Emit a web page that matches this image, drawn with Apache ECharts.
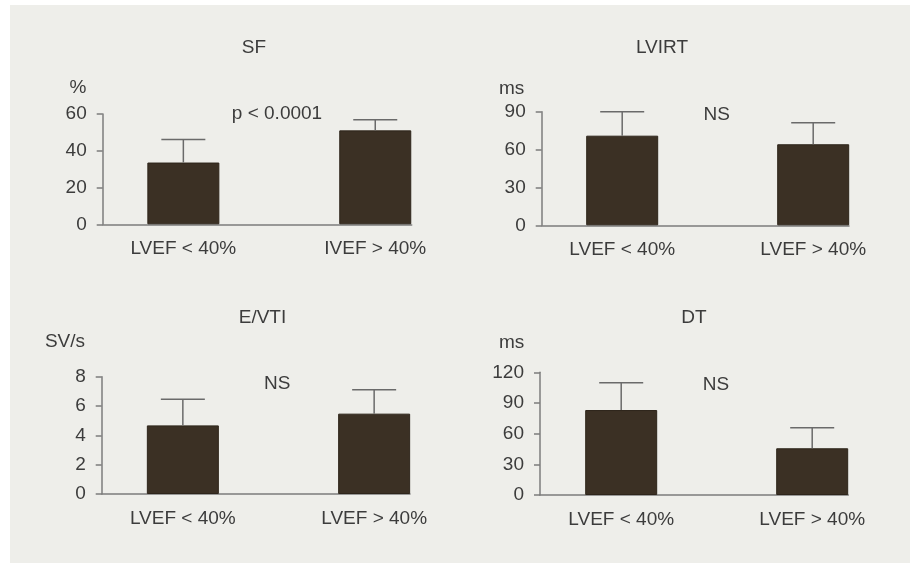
<!DOCTYPE html>
<html>
<head>
<meta charset="utf-8">
<script src="https://cdn.jsdelivr.net/npm/echarts@6/dist/echarts.min.js"></script>
<style>
  html, body { margin: 0; padding: 0; background: #ffffff; }
  #bg { position: absolute; left: 10px; top: 5px; width: 900px; height: 558px; background: #eeeeea; }
  #chart { position: absolute; left: 0; top: 0; width: 913px; height: 566px; }
</style>
</head>
<body>
<div id="bg"></div>
<div id="chart"></div>
<script>
// ---- data ----
var catsSF = ['LVEF < 40%', 'IVEF > 40%'];
var cats = ['LVEF < 40%', 'LVEF > 40%'];

var sfMean = [33.6, 51.1];
var sfUpper = [46.1, 56.9];
var sfTicks = { max: 60, interval: 20 };

var lvirtMean = [71.0, 64.2];
var lvirtUpper = [90.0, 81.3];
var lvirtTicks = { max: 90, interval: 30 };

var evtiMean = [4.68, 5.48];
var evtiUpper = [6.46, 7.11];
var evtiTicks = { max: 8, interval: 2 };

var dtMean = [83.1, 45.7];
var dtUpper = [109.8, 65.8];
var dtTicks = { max: 120, interval: 30 };

var titles = ['SF', 'LVIRT', 'E/VTI', 'DT'];
var units = ['%', 'ms', 'SV/s', 'ms'];
var notes = ['p < 0.0001', 'NS', 'NS', 'NS'];

// ---- layout ----
var FONT = '"Liberation Sans", Arial, Helvetica, sans-serif';
var FS = 19;
var TXT = '#3c3c3c';
var AXC = '#7c7c7c';
var BAR = '#3b3024';

var panels = [
  { cats: catsSF, mean: sfMean, upper: sfUpper, ticks: sfTicks,
    a: { left: 102.7, top: 114, width: 309, height: 110.3 },
    b: { left: 87.4, width: 383.8 },
    title: [254, 48], unit: [78, 88], note: [277, 114] },
  { cats: cats, mean: lvirtMean, upper: lvirtUpper, ticks: lvirtTicks,
    a: { left: 541.7, top: 111.7, width: 307.3, height: 113.6 },
    b: { left: 526.7, width: 382 },
    title: [662, 48], unit: [511.7, 89], note: [716.7, 115] },
  { cats: cats, mean: evtiMean, upper: evtiUpper, ticks: evtiTicks,
    a: { left: 101.7, top: 376.7, width: 308.3, height: 117.3 },
    b: { left: 87.2, width: 382.6 },
    title: [262.5, 318], unit: [65, 342], note: [277.3, 383.3] },
  { cats: cats, mean: dtMean, upper: dtUpper, ticks: dtTicks,
    a: { left: 540, top: 372.3, width: 308.3, height: 122.7 },
    b: { left: 525.7, width: 382 },
    title: [694, 318], unit: [511.7, 342.7], note: [716, 384.3] }
];

var grid = [], xAxis = [], yAxis = [], series = [], graphic = [];

panels.forEach(function (p, i) {
  var ga = grid.length;
  grid.push({ left: p.a.left, top: p.a.top, width: p.a.width, height: p.a.height });
  var gb = grid.length;
  grid.push({ left: p.b.left, top: p.a.top, width: p.b.width, height: p.a.height });

  // axis grid (baseline + y axis)
  xAxis.push({ gridIndex: ga, type: 'category', data: p.cats,
    axisLine: { show: true, lineStyle: { color: AXC, width: 1.5 } },
    axisTick: { show: false }, axisLabel: { show: false }, splitLine: { show: false } });
  yAxis.push({ gridIndex: ga, type: 'value', min: 0, max: p.ticks.max, interval: p.ticks.interval,
    axisLine: { show: true, lineStyle: { color: AXC, width: 1.5 } },
    axisTick: { show: true, length: 6, lineStyle: { color: AXC, width: 1.5 } },
    axisLabel: { show: true, margin: 16, color: TXT, fontSize: FS, fontFamily: FONT },
    splitLine: { show: false } });

  // bar grid
  var xb = xAxis.length;
  xAxis.push({ gridIndex: gb, type: 'category', data: p.cats,
    axisLine: { show: false }, axisTick: { show: false },
    axisLabel: { show: true, margin: 15, color: TXT, fontSize: FS, fontFamily: FONT },
    splitLine: { show: false } });
  var yb = yAxis.length;
  yAxis.push({ gridIndex: gb, type: 'value', min: 0, max: p.ticks.max, show: false,
    splitLine: { show: false } });

  series.push({ type: 'bar', xAxisIndex: xb, yAxisIndex: yb, data: p.mean,
    barWidth: 72, itemStyle: { color: BAR, borderColor: '#2e251b', borderWidth: 1 },
    silent: true, z: 2 });

  var errData = p.mean.map(function (m, k) { return [k, m, p.upper[k]]; });
  series.push({ type: 'custom', xAxisIndex: xb, yAxisIndex: yb, data: errData, z: 3, silent: true,
    renderItem: function (params, api) {
      var base = api.coord([api.value(0), api.value(1)]);
      var top = api.coord([api.value(0), api.value(2)]);
      var half = 22;
      return { type: 'group', children: [
        { type: 'line', shape: { x1: base[0], y1: base[1], x2: top[0], y2: top[1] },
          style: { stroke: '#6a6a6a', lineWidth: 1.5 } },
        { type: 'line', shape: { x1: top[0] - half, y1: top[1], x2: top[0] + half, y2: top[1] },
          style: { stroke: '#6a6a6a', lineWidth: 1.5 } }
      ] };
    } });

  graphic.push({ type: 'text', x: p.title[0], y: p.title[1],
    style: { text: titles[i], fill: TXT, font: FS + 'px ' + FONT, textAlign: 'center', textVerticalAlign: 'middle' } });
  graphic.push({ type: 'text', x: p.unit[0], y: p.unit[1],
    style: { text: units[i], fill: TXT, font: FS + 'px ' + FONT, textAlign: 'center', textVerticalAlign: 'middle' } });
  graphic.push({ type: 'text', x: p.note[0], y: p.note[1],
    style: { text: notes[i], fill: TXT, font: FS + 'px ' + FONT, textAlign: 'center', textVerticalAlign: 'middle' } });
});

var chart = echarts.init(document.getElementById('chart'), null, { renderer: 'canvas' });
chart.setOption({
  backgroundColor: 'transparent',
  animation: false,
  grid: grid, xAxis: xAxis, yAxis: yAxis, series: series, graphic: graphic
});
</script>
</body>
</html>
